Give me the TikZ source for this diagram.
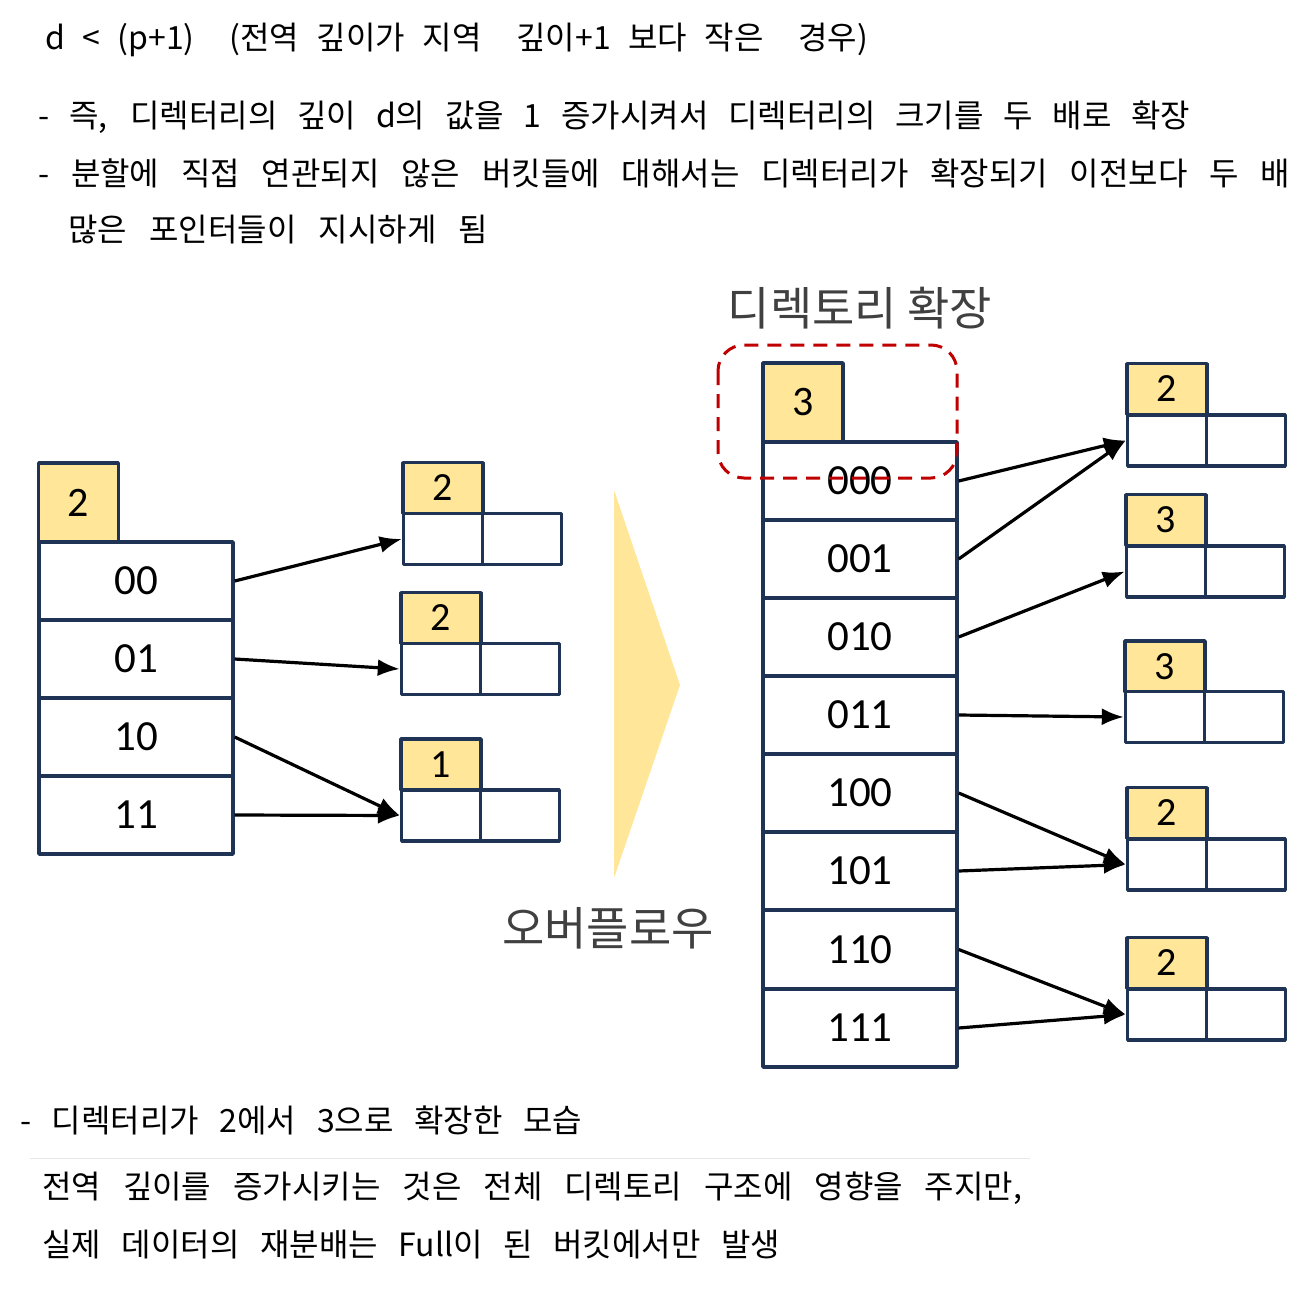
\documentclass[tikz,border=0pt]{standalone}
\usepackage{fontspec}
\setmainfont{Noto Sans CJK KR}
\newfontfamily\calibfont{Carlito}
\usepackage{tikz}
\usetikzlibrary{arrows.meta}
\usetikzlibrary{shapes}
\definecolor{boxline}{HTML}{1F3354}
\definecolor{depthfill}{HTML}{FFE699}
\definecolor{dashred}{HTML}{C00000}
\definecolor{titlegray}{HTML}{404040}
\tikzset{
  dircell/.style={draw=boxline,line width=3.4pt,fill=white,inner sep=0pt,minimum width=194pt,minimum height=78pt,font=\calibfont\fontsize{43}{50}\selectfont},
  depthbox/.style={draw=boxline,line width=3.4pt,fill=depthfill,inner sep=0pt,minimum width=80pt,minimum height=79pt,font=\calibfont\fontsize{42}{50}\selectfont},
  bkthead/.style={draw=boxline,line width=3.4pt,fill=depthfill,inner sep=0pt,minimum width=80pt,minimum height=51pt,font=\calibfont\fontsize{40}{46}\selectfont},
  bktcell/.style={draw=boxline,line width=3.4pt,fill=white,inner sep=0pt,minimum width=79pt,minimum height=51pt},
  bodytext/.style={anchor=west,inner sep=0pt,font=\fontsize{32}{38}\selectfont},
  bigtext/.style={inner sep=0pt,text=titlegray,font=\fontsize{46}{54}\selectfont},
  ptr/.style={black,->,line width=3.2pt},
}
\begin{document}
\begin{tikzpicture}[x=1pt,y=-1pt,>={Latex[length=22pt,width=17pt]},line join=bevel]
\useasboundingbox (0,0) rectangle (1312,1288);
%%
\node (txt_0) at (45,40) [bodytext] {\makebox[823pt][s]{d < (p+1)\ \ (전역 깊이가 지역\ \ 깊이+1 보다 작은\ \ 경우)}};
\node (txt_1) at (38,117) [bodytext] {\makebox[1152pt][s]{- 즉, 디렉터리의 깊이 d의 값을 1 증가시켜서 디렉터리의 크기를 두 배로 확장}};
\node (txt_2) at (38,173) [bodytext] {\makebox[1252pt][s]{- 분할에 직접 연관되지 않은 버킷들에 대해서는 디렉터리가 확장되기 이전보다 두 배}};
\node (txt_3) at (68,230) [bodytext] {\makebox[420pt][s]{많은 포인터들이 지시하게 됨}};
%
\fill [depthfill] (614,490) -- (680,685) -- (614,878) -- cycle;
\node (lbl_over) at (608,928) [bigtext] {오버플로우};
\node (lbl_grow) at (860,308) [bigtext] {디렉토리 확장};
%
\node (ldepth) at (78.5,502.5) [depthbox] {2};
\node (ldir_0) at (136,581) [dircell] {00};
  \node (ldir_1) at (136,659) [dircell] {01};
  \node (ldir_2) at (136,737) [dircell] {10};
  \node (ldir_3) at (136,815) [dircell] {11};
\node (lbkt_0_h) at (443,488) [bkthead] {2};
  \node (lbkt_0_a) at (443,539) [bktcell] {};
  \node (lbkt_0_b) at (522,539) [bktcell] {};
\node (lbkt_1_h) at (441,618) [bkthead] {2};
  \node (lbkt_1_a) at (441,669) [bktcell] {};
  \node (lbkt_1_b) at (520,669) [bktcell] {};
\node (lbkt_2_h) at (441,764.5) [bkthead] {1};
  \node (lbkt_2_a) at (441,815.5) [bktcell] {};
  \node (lbkt_2_b) at (520,815.5) [bktcell] {};
\draw [ptr] (ldir_0.east) -- (lbkt_0_a.west);
\draw [ptr] (ldir_1.east) -- (lbkt_1_a.west);
\draw [ptr] (ldir_2.east) -- (lbkt_2_a.west);
\draw [ptr] (ldir_3.east) -- (lbkt_2_a.west);
%
\node (rdepth) at (803,402.5) [depthbox] {3};
\node (rdir_0) at (860,481) [dircell] {000};
  \node (rdir_1) at (860,559) [dircell] {001};
  \node (rdir_2) at (860,637) [dircell] {010};
  \node (rdir_3) at (860,715) [dircell] {011};
  \node (rdir_4) at (860,793) [dircell] {100};
  \node (rdir_5) at (860,871) [dircell] {101};
  \node (rdir_6) at (860,949.5) [dircell] {110};
  \node (rdir_7) at (860,1028) [dircell] {111};
\node (rbkt_0_h) at (1167,389) [bkthead] {2};
  \node (rbkt_0_a) at (1167,440.5) [bktcell] {};
  \node (rbkt_0_b) at (1246,440.5) [bktcell] {};
\node (rbkt_1_h) at (1166,520) [bkthead] {3};
  \node (rbkt_1_a) at (1166,571.5) [bktcell] {};
  \node (rbkt_1_b) at (1245,571.5) [bktcell] {};
\node (rbkt_2_h) at (1165,666.5) [bkthead] {3};
  \node (rbkt_2_a) at (1165,717) [bktcell] {};
  \node (rbkt_2_b) at (1244,717) [bktcell] {};
\node (rbkt_3_h) at (1167,813) [bkthead] {2};
  \node (rbkt_3_a) at (1167,864.5) [bktcell] {};
  \node (rbkt_3_b) at (1246,864.5) [bktcell] {};
\node (rbkt_4_h) at (1167,963) [bkthead] {2};
  \node (rbkt_4_a) at (1167,1014.5) [bktcell] {};
  \node (rbkt_4_b) at (1246,1014.5) [bktcell] {};
\draw [ptr] (rdir_0.east) -- (rbkt_0_a.west);
\draw [ptr] (rdir_1.east) -- (rbkt_0_a.west);
\draw [ptr] (rdir_2.east) -- (rbkt_1_a.west);
\draw [ptr] (rdir_3.east) -- (rbkt_2_a.west);
\draw [ptr] (rdir_4.east) -- (rbkt_3_a.west);
\draw [ptr] (rdir_5.east) -- (rbkt_3_a.west);
\draw [ptr] (rdir_6.east) -- (rbkt_4_a.west);
\draw [ptr] (rdir_7.east) -- (rbkt_4_a.west);
\draw [dashred,line width=3pt,dash pattern=on 14pt off 9pt,rounded corners=26pt] (718,345) rectangle (957,478);
%
\node (txt_4) at (20,1120) [bodytext] {\makebox[562pt][s]{- 디렉터리가 2에서 3으로 확장한 모습}};
\draw [black!9,line width=1pt] (30,1158) -- (1030,1158);
\node (txt_5) at (42,1188) [bodytext] {\makebox[980pt][s]{전역 깊이를 증가시키는 것은 전체 디렉토리 구조에 영향을 주지만,}};
\node (txt_6) at (42,1245) [bodytext] {\makebox[738pt][s]{실제 데이터의 재분배는 Full이 된 버킷에서만 발생}};
%
\end{tikzpicture}
\end{document}
